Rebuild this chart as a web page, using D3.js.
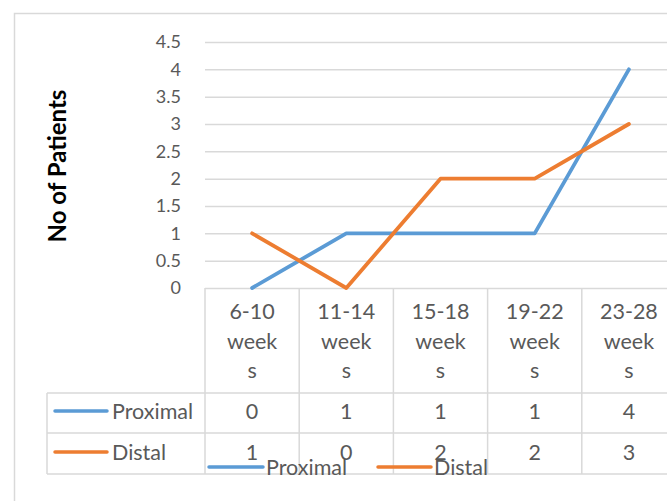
<!DOCTYPE html>
<html>
<head>
<meta charset="utf-8">
<script src="https://cdn.jsdelivr.net/npm/d3@7"></script>
<style>
  html, body { margin: 0; padding: 0; background: #fff; }
  svg { display: block; font-family: Lato, "Open Sans", sans-serif; }
</style>
</head>
<body>
<svg id="chart" width="667" height="501"></svg>
<script>
// Gestational age groups and patient counts per series
const categories = ["6-10 weeks", "11-14 weeks", "15-18 weeks", "19-22 weeks", "23-28 weeks"];
const categoryLines = [["6-10", "week", "s"], ["11-14", "week", "s"], ["15-18", "week", "s"], ["19-22", "week", "s"], ["23-28", "week", "s"]];
const seriesNames = ["Proximal", "Distal"];
const proximal = [0, 1, 1, 1, 4];
const distal = [1, 0, 2, 2, 3];
const yTicks = [0, 0.5, 1, 1.5, 2, 2.5, 3, 3.5, 4, 4.5];
const colors = ["#5B9BD5", "#ED7D31"];

const svg = d3.select("#chart");
const textColor = "#595959";
const gridColor = "#d9d9d9";
const labelSize = 21.5;

// chart frame
svg.append("rect")
  .attr("x", 14.5).attr("y", 13.5)
  .attr("width", 700).attr("height", 520)
  .attr("fill", "none").attr("stroke", gridColor).attr("stroke-width", 1.5);

const plotLeft = 205, plotRight = 676, plotTop = 42, plotBottom = 288;
const tableLeft = 47, row1Top = 393, row2Top = 433, tableBottom = 474;

const x = d3.scaleBand().domain(categories).range([plotLeft, plotRight]);
const y = d3.scaleLinear().domain([0, 4.5]).range([plotBottom, plotTop]);

// horizontal gridlines with value labels
const yAxis = d3.axisLeft(y).tickValues(yTicks).tickSize(-(plotRight - plotLeft)).tickPadding(24).tickFormat(d3.format("~g"));
const gy = svg.append("g").attr("transform", `translate(${plotLeft},0)`).call(yAxis);
gy.select(".domain").remove();
gy.selectAll(".tick line").attr("stroke", gridColor).attr("stroke-width", 1.5);
gy.selectAll(".tick text").attr("fill", textColor).attr("font-size", 18).attr("font-family", "Lato, sans-serif");

// y-axis title
svg.append("text")
  .attr("transform", "translate(66,166) rotate(-90)")
  .attr("text-anchor", "middle")
  .attr("font-size", 24).attr("font-weight", "bold").attr("fill", "#000")
  .text("No of Patients");

// data table grid
const grid = svg.append("g").attr("stroke", gridColor).attr("stroke-width", 1.5).attr("fill", "none");
categories.forEach(c => {
  grid.append("line").attr("x1", x(c)).attr("x2", x(c)).attr("y1", plotBottom).attr("y2", tableBottom);
});
grid.append("line").attr("x1", plotRight).attr("x2", plotRight).attr("y1", plotBottom).attr("y2", tableBottom);
[row1Top, row2Top, tableBottom].forEach(yy => {
  grid.append("line").attr("x1", tableLeft).attr("x2", plotRight).attr("y1", yy).attr("y2", yy);
});
grid.append("line").attr("x1", tableLeft).attr("x2", tableLeft).attr("y1", row1Top).attr("y2", tableBottom);

// category labels (wrapped)
categories.forEach((c, i) => {
  const t = svg.append("text")
    .attr("x", x(c) + x.bandwidth() / 2)
    .attr("text-anchor", "middle")
    .attr("font-size", labelSize).attr("fill", textColor);
  categoryLines[i].forEach((ln, j) => {
    t.append("tspan").attr("x", x(c) + x.bandwidth() / 2).attr("y", 319 + j * 29.5).text(ln);
  });
});

// table rows: legend key, name, values
const seriesData = [proximal, distal];
const rowCenters = [411, 452];
seriesData.forEach((vals, s) => {
  const cy = rowCenters[s];
  svg.append("line").attr("x1", 55).attr("x2", 107).attr("y1", cy).attr("y2", cy)
    .attr("stroke", colors[s]).attr("stroke-width", 3.5).attr("stroke-linecap", "round");
  svg.append("text").attr("x", 112).attr("y", cy + 8)
    .attr("font-size", labelSize).attr("fill", textColor).text(seriesNames[s]);
  vals.forEach((v, i) => {
    svg.append("text")
      .attr("x", x(categories[i]) + x.bandwidth() / 2).attr("y", cy + 8)
      .attr("text-anchor", "middle")
      .attr("font-size", labelSize).attr("fill", textColor).text(v);
  });
});

// series lines
const line = d3.line()
  .x((d, i) => x(categories[i]) + x.bandwidth() / 2)
  .y(d => y(d));
seriesData.forEach((vals, s) => {
  svg.append("path").datum(vals)
    .attr("d", line)
    .attr("fill", "none").attr("stroke", colors[s]).attr("stroke-width", 3.8)
    .attr("stroke-linejoin", "round").attr("stroke-linecap", "round");
});

// bottom legend
const legendItems = [{ x1: 209, x2: 263, tx: 266 }, { x1: 378, x2: 431, tx: 434 }];
legendItems.forEach((it, s) => {
  svg.append("line").attr("x1", it.x1).attr("x2", it.x2).attr("y1", 467).attr("y2", 467)
    .attr("stroke", colors[s]).attr("stroke-width", 3.5).attr("stroke-linecap", "round");
  svg.append("text").attr("x", it.tx).attr("y", 475)
    .attr("font-size", labelSize).attr("fill", textColor).text(seriesNames[s]);
});
</script>
</body>
</html>
